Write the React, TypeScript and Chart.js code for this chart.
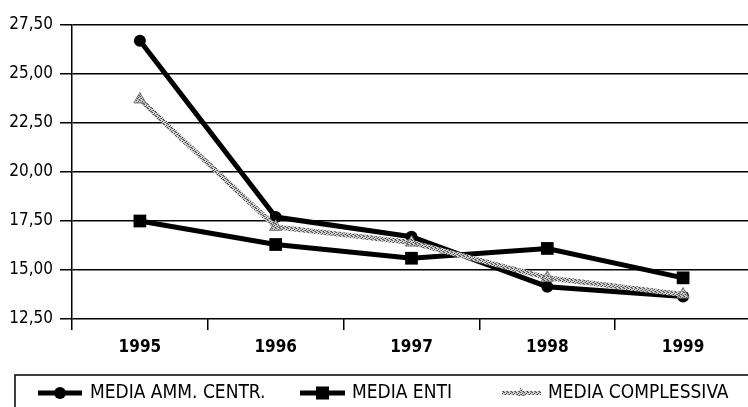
import React, { useEffect, useRef } from "react";
import { Chart, registerables } from "chart.js";

Chart.register(...registerables);

const years = ["1995", "1996", "1997", "1998", "1999"];
const ammCentr = [26.7, 17.7, 16.7, 14.15, 13.65];
const enti = [17.5, 16.3, 15.6, 16.1, 14.6];
const complessiva = [23.7, 17.2, 16.4, 14.6, 13.75];
const seriesLabels = ["MEDIA AMM. CENTR.", "MEDIA ENTI", "MEDIA COMPLESSIVA"];
const yMin = 12.5;
const yMax = 27.5;
const yStep = 2.5;

const FONT = '"DejaVu Sans Condensed", "DejaVu Sans", sans-serif';

function makePattern(): CanvasPattern | string {
  const c = document.createElement("canvas");
  c.width = 4;
  c.height = 4;
  const g = c.getContext("2d");
  if (!g) return "#999";
  g.fillStyle = "#d4d4d4";
  g.fillRect(0, 0, 4, 4);
  g.fillStyle = "#444";
  g.fillRect(0, 0, 1, 1);
  g.fillRect(2, 1, 1, 1);
  g.fillRect(1, 2, 1, 1);
  g.fillRect(3, 3, 1, 1);
  g.fillStyle = "#888";
  g.fillRect(2, 3, 1, 1);
  g.fillRect(0, 2, 1, 1);
  g.fillRect(3, 0, 1, 1);
  const p = g.createPattern(c, "repeat");
  return p || "#999";
}

export default function App() {
  const ref = useRef<HTMLCanvasElement | null>(null);

  useEffect(() => {
    if (!ref.current) return;
    const pattern = makePattern();

    const legendPlugin = {
      id: "customLegend",
      afterDraw(chart: any) {
        const ctx = chart.ctx as CanvasRenderingContext2D;
        ctx.save();
        ctx.strokeStyle = "#000";
        ctx.lineWidth = 1.5;
        ctx.beginPath();
        ctx.moveTo(15, 407);
        ctx.lineTo(15, 375);
        ctx.lineTo(760, 375);
        ctx.stroke();

        const y = 393;
        ctx.font = `19px ${FONT}`;
        ctx.textBaseline = "middle";
        ctx.fillStyle = "#000";

        // item 1
        ctx.lineWidth = 5;
        ctx.strokeStyle = "#000";
        ctx.beginPath();
        ctx.moveTo(38, y);
        ctx.lineTo(82, y);
        ctx.stroke();
        ctx.beginPath();
        ctx.arc(60, y, 6, 0, Math.PI * 2);
        ctx.fill();
        ctx.fillText(seriesLabels[0], 90, y);

        // item 2
        ctx.beginPath();
        ctx.moveTo(300, y);
        ctx.lineTo(345, y);
        ctx.stroke();
        ctx.fillRect(316, y - 6.5, 13, 13);
        ctx.fillText(seriesLabels[1], 352, y);

        // item 3
        ctx.lineWidth = 4;
        ctx.strokeStyle = pattern as any;
        ctx.beginPath();
        ctx.moveTo(502, y);
        ctx.lineTo(541, y);
        ctx.stroke();
        ctx.fillStyle = pattern as any;
        ctx.beginPath();
        ctx.moveTo(521, y - 6);
        ctx.lineTo(526, y + 3);
        ctx.lineTo(516, y + 3);
        ctx.closePath();
        ctx.fill();
        ctx.fillStyle = "#000";
        ctx.fillText(seriesLabels[2], 548, y);
        ctx.restore();
      },
    };

    const chart = new Chart(ref.current, {
      type: "line",
      data: {
        labels: years,
        datasets: [
          {
            label: seriesLabels[0],
            data: ammCentr,
            borderColor: "#000",
            backgroundColor: "#000",
            borderWidth: 5,
            pointStyle: "circle",
            pointRadius: 6,
            pointBorderWidth: 0,
            tension: 0,
            order: 2,
          },
          {
            label: seriesLabels[1],
            data: enti,
            borderColor: "#000",
            backgroundColor: "#000",
            borderWidth: 5,
            pointStyle: "rect",
            pointRadius: 9,
            pointBorderWidth: 0,
            tension: 0,
            order: 1,
          },
          {
            label: seriesLabels[2],
            data: complessiva,
            borderColor: pattern as any,
            backgroundColor: pattern as any,
            borderWidth: 5,
            pointStyle: "triangle",
            pointRadius: 7,
            pointBorderWidth: 1,
            pointBorderColor: "#777",
            tension: 0,
            order: 0,
          },
        ],
      },
      options: {
        animation: false,
        responsive: false,
        maintainAspectRatio: false,
        layout: { padding: { top: 25, right: 3, left: 0, bottom: 0 } },
        plugins: {
          legend: { display: false },
          tooltip: { enabled: false },
        },
        scales: {
          x: {
            offset: true,
            border: { display: false },
            grid: {
              offset: true,
              drawOnChartArea: false,
              drawTicks: true,
              tickLength: 11,
              color: "#000",
              lineWidth: 1.5,
            },
            ticks: {
              color: "#000",
              padding: 7,
              font: { family: FONT, size: 17, weight: "bold" },
              maxRotation: 0,
            },
            afterFit: (scale: any) => {
              scale.height = 88;
            },
          },
          y: {
            min: yMin,
            max: yMax,
            border: { display: true, color: "#000", width: 1.5 },
            grid: {
              color: "#000",
              lineWidth: 1.5,
              tickLength: 12,
              drawTicks: true,
            },
            ticks: {
              stepSize: yStep,
              color: "#000",
              padding: 7,
              font: { family: FONT, size: 17 },
              callback: (v: any) => Number(v).toFixed(2).replace(".", ","),
            },
            afterFit: (scale: any) => {
              scale.width = 72;
            },
          },
        },
      },
      plugins: [legendPlugin],
    });
    return () => chart.destroy();
  }, []);

  return (
    <div
      style={{
        position: "absolute",
        left: 0,
        top: 0,
        width: 748,
        height: 407,
        overflow: "hidden",
        background: "#fff",
      }}
    >
      <canvas ref={ref} width={760} height={407} style={{ width: 760, height: 407, display: "block" }} />
    </div>
  );
}
